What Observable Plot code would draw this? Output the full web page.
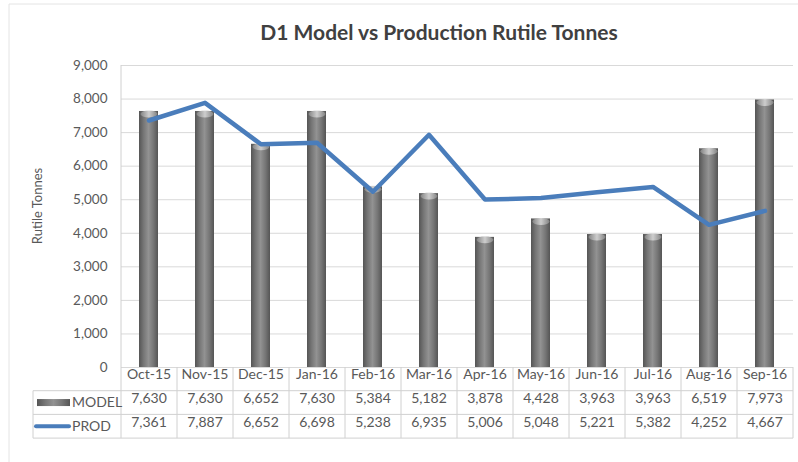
<!DOCTYPE html>
<html>
<head>
<meta charset="utf-8">
<script src="https://cdn.jsdelivr.net/npm/d3@7"></script>
<script src="https://cdn.jsdelivr.net/npm/@observablehq/plot@0.6"></script>
<style>
  html, body { margin: 0; padding: 0; background: #fff; }
  #chart svg { display: block; }
</style>
</head>
<body>
<div id="chart"></div>
<script>
const title = "D1 Model vs Production Rutile Tonnes";
const yLabel = "Rutile Tonnes";
const months = ["Oct-15","Nov-15","Dec-15","Jan-16","Feb-16","Mar-16","Apr-16","May-16","Jun-16","Jul-16","Aug-16","Sep-16"];
const model = [7630, 7630, 6652, 7630, 5384, 5182, 3878, 4428, 3963, 3963, 6519, 7973];
const prod  = [7361, 7887, 6652, 6698, 5238, 6935, 5006, 5048, 5221, 5382, 4252, 4667];
const yTicks = [0, 1000, 2000, 3000, 4000, 5000, 6000, 7000, 8000, 9000];
const seriesNames = ["MODEL", "PROD"];

const data = months.map((m, i) => ({month: m, model: model[i], prod: prod[i]}));
const fmt = d3.format(",");
const textColor = "#595959";
const lineColor = "#4a7dbb";
const gridColor = "#d9d9d9";
const rowH = 23.7;
const font = "Lato, 'Open Sans', sans-serif";

const chart = Plot.plot({
  width: 798,
  height: 462,
  marginTop: 65,
  marginBottom: 95,
  marginLeft: 121,
  marginRight: 5,
  style: {fontFamily: font, fontSize: "13.5px", color: textColor, background: "#fff"},
  x: {domain: months, paddingInner: 0.66, paddingOuter: 0.33, axis: null},
  y: {domain: [0, 9000], ticks: yTicks, tickFormat: fmt, tickSize: 0, tickPadding: 14, label: null},
  marks: [
    Plot.ruleY(yTicks, {stroke: gridColor, strokeWidth: 1}),
    Plot.barY(data, {x: "month", y: "model", fill: "url(#barGrad)"}),
    Plot.lineY(data, {x: "month", y: "prod", stroke: lineColor, strokeWidth: 4.5, strokeLinejoin: "round", strokeLinecap: "round"}),
    Plot.text(months, {x: d => d, frameAnchor: "bottom", dy: rowH * 0.5, fill: textColor, fontSize: 14}),
    Plot.text(data, {x: "month", text: d => fmt(d.model), frameAnchor: "bottom", dy: rowH * 1.5, fill: textColor, fontSize: 14}),
    Plot.text(data, {x: "month", text: d => fmt(d.prod), frameAnchor: "bottom", dy: rowH * 2.5, fill: textColor, fontSize: 14})
  ]
});

const svg = d3.select(chart);
// gradients
const defs = svg.insert("defs", ":first-child");
const g1 = defs.append("linearGradient").attr("id", "barGrad").attr("x1", 0).attr("x2", 1).attr("y1", 0).attr("y2", 0);
[[0, "#555555"], [0.25, "#777777"], [0.5, "#929292"], [0.75, "#777777"], [1, "#555555"]]
  .forEach(([o, c]) => g1.append("stop").attr("offset", o).attr("stop-color", c));
const g2 = defs.append("linearGradient").attr("id", "capGrad").attr("x1", 0).attr("x2", 1).attr("y1", 0).attr("y2", 0);
[[0, "#8a8a8a"], [0.5, "#d8d8d8"], [1, "#8a8a8a"]]
  .forEach(([o, c]) => g2.append("stop").attr("offset", o).attr("stop-color", c));

const sx = chart.scale("x");
const x = d3.scaleBand().domain(sx.domain).range(sx.range)
  .paddingInner(sx.paddingInner ?? 0.66).paddingOuter(sx.paddingOuter ?? 0.33).align(sx.align ?? 0.5);
const sy = chart.scale("y");
const y = d3.scaleLinear().domain(sy.domain).range(sy.range);
const bw = x.bandwidth();
const step = x.step();
const y0 = y(0), yTop = y(9000);
const left = x(months[0]) + bw / 2 - step / 2;
const right = x(months[months.length - 1]) + bw / 2 + step / 2;
const tableLeft = 33;

// bar caps
const caps = svg.append("g");
data.forEach(d => {
  const cx = x(d.month) + bw / 2;
  caps.append("ellipse").attr("cx", cx).attr("cy", y(d.model) + 3).attr("rx", bw / 2 - 1).attr("ry", 3.5)
    .attr("fill", "url(#capGrad)").attr("opacity", 0.85);
});
// bring line on top of caps
svg.node().querySelectorAll("g[aria-label='line']").forEach(n => n.parentNode.appendChild(n));

// table grid
const grid = svg.append("g").attr("stroke", "#d0d0d0").attr("stroke-width", 1).attr("fill", "none");
grid.append("line").attr("x1", left).attr("x2", left).attr("y1", yTop).attr("y2", y0 + rowH * 3);
grid.append("line").attr("x1", right).attr("x2", right).attr("y1", y0).attr("y2", y0 + rowH * 3);
grid.append("line").attr("x1", tableLeft).attr("x2", tableLeft).attr("y1", y0 + rowH).attr("y2", y0 + rowH * 3);
months.slice(1).forEach(m => {
  const bx = x(m) + bw / 2 - step / 2;
  grid.append("line").attr("x1", bx).attr("x2", bx).attr("y1", y0).attr("y2", y0 + rowH * 3);
});
[1, 2, 3].forEach(r => {
  grid.append("line").attr("x1", tableLeft).attr("x2", right).attr("y1", y0 + rowH * r).attr("y2", y0 + rowH * r);
});

// legend keys in table
const leg = svg.append("g");
leg.append("rect").attr("x", 37).attr("y", y0 + rowH * 1.5 - 3.5).attr("width", 33).attr("height", 7)
  .attr("fill", "url(#barGrad)");
leg.append("line").attr("x1", 36).attr("x2", 69).attr("y1", y0 + rowH * 2.5).attr("y2", y0 + rowH * 2.5)
  .attr("stroke", lineColor).attr("stroke-width", 4).attr("stroke-linecap", "round");
seriesNames.forEach((s, i) => {
  leg.append("text").attr("x", 72).attr("y", y0 + rowH * (1.5 + i)).attr("dy", "0.35em")
    .attr("text-anchor", "start")
    .attr("fill", textColor).attr("font-size", 14).attr("font-family", font).text(s);
});

// chart border
svg.append("path").attr("d", `M9,462V4H798`).attr("fill", "none").attr("stroke", "#e4e4e4").attr("stroke-width", 1);

// title
svg.append("text").attr("x", 439).attr("y", 40).attr("text-anchor", "middle")
  .attr("font-family", font).attr("font-weight", "bold").attr("font-size", 21)
  .attr("fill", "#404040").text(title);

// y label
svg.append("text").attr("transform", `translate(42,${(y0 + yTop) / 2 - 10}) rotate(-90)`)
  .attr("text-anchor", "middle").attr("font-family", font).attr("font-size", 13)
  .attr("fill", textColor).text(yLabel);

document.getElementById("chart").appendChild(chart);
</script>
</body>
</html>
